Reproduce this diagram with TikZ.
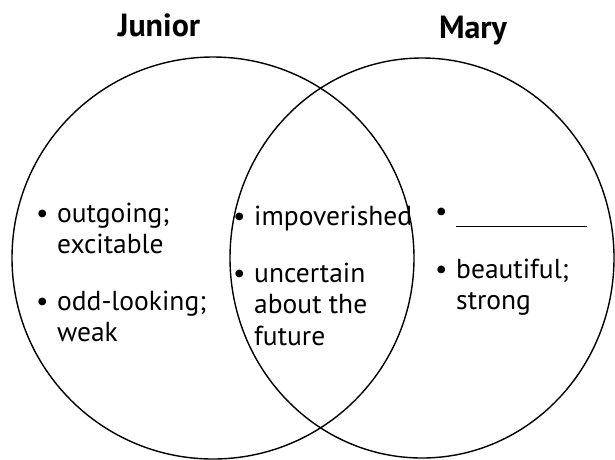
\documentclass[tikz,border=0pt]{standalone}
\usepackage{fontspec}
\setmainfont{PT Sans}

% one bulleted entry, lines split by \\
\newcommand{\bitem}[1]{\makebox[21pt][l]{\textbullet}\begin{tabular}[t]{@{}l@{}}#1\end{tabular}}

\tikzset{
  set/.style={draw=black, line width=1.4pt},
  entry/.style={anchor=base west, inner sep=0pt, font=\fontsize{27.5}{31.5}\selectfont},
  title/.style={anchor=base, inner sep=0pt, font=\fontsize{32}{36}\selectfont\bfseries}
}

\begin{document}
\begin{tikzpicture}[x=1pt,y=-1pt]
\useasboundingbox (0,0) rectangle (615,459);

% the two sets
\draw[set] (213,258) circle (201);
\draw[set] (422,258) ellipse (192 and 200);

% headings
\node[title] (junior) at (159,36) {Junior};
\node[title] (mary) at (473,38) {Mary};

% Junior only
\node[entry] (outgoing) at (36,222) {\bitem{outgoing;\\excitable}};
\node[entry] (oddlook) at (36,310) {\bitem{odd-looking;\\weak}};

% both
\node[entry] (poor) at (233,225) {\bitem{impoverished}};
\node[entry] (unsure) at (233,282) {\bitem{uncertain\\about the\\future}};

% Mary only
\node[entry] (blank) at (435,220) {\bitem{\rule[-7pt]{131pt}{0.8pt}}};
\node[entry] (pretty) at (435,278) {\bitem{beautiful;\\strong}};
\end{tikzpicture}
\end{document}
